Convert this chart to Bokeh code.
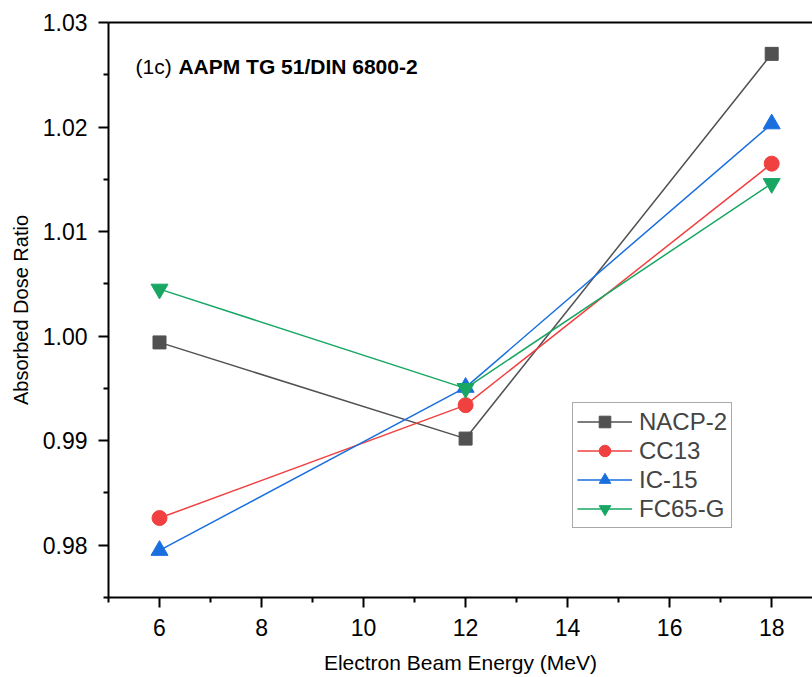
from bokeh.plotting import figure
from bokeh.models import (ColumnDataSource, FixedTicker, LinearAxis, Legend, LegendItem,
                          PrintfTickFormatter, Label, Range1d)
from bokeh.embed import file_html
from bokeh.resources import INLINE

# ---- data ----
energy = [6, 12, 18]
nacp2 = [0.9994, 0.9902, 1.0270]
cc13 = [0.9826, 0.9934, 1.0165]
ic15 = [0.9795, 0.9951, 1.0203]
fc65g = [1.0045, 0.9950, 1.0146]

series_names = ["NACP-2", "CC13", "IC-15", "FC65-G"]
series_vals = [nacp2, cc13, ic15, fc65g]
colors = ["#515151", "#F14040", "#1A6FDF", "#18A763"]
markers = ["square", "circle", "triangle", "inverted_triangle"]
marker_sizes = [13, 15, 17, 17]

x_major = [6, 8, 10, 12, 14, 16, 18]
x_minor = [5, 7, 9, 11, 13, 15, 17, 19]
y_major = [0.98, 0.99, 1.00, 1.01, 1.02, 1.03]
y_minor = [0.975, 0.985, 0.995, 1.005, 1.015, 1.025]

FONT = "Liberation Sans"

p = figure(width=812, height=677, output_backend="svg", toolbar_location=None,
           x_range=Range1d(5, 18.8), y_range=Range1d(0.975, 1.03),
           min_border_left=108, min_border_right=0, min_border_top=22, min_border_bottom=80)
p.outline_line_color = None
p.xgrid.visible = False
p.ygrid.visible = False
p.background_fill_color = "white"
p.border_fill_color = "white"

items = []
for name, vals, c, m, s in zip(series_names, series_vals, colors, markers, marker_sizes):
    src = ColumnDataSource(dict(x=energy, y=vals))
    r1 = p.line("x", "y", source=src, line_color=c, line_width=1.5)
    r2 = p.scatter("x", "y", source=src, marker=m, size=s, fill_color=c, line_color=c)
    items.append(LegendItem(label=name, renderers=[r1, r2]))

# axes styling
for ax in (p.xaxis[0], p.yaxis[0]):
    ax.axis_line_width = 2
    ax.major_tick_line_width = 2
    ax.minor_tick_line_width = 2
    ax.major_tick_out = 10
    ax.major_tick_in = 0
    ax.minor_tick_out = 5
    ax.minor_tick_in = 0
    ax.major_label_text_font = FONT
    ax.major_label_text_font_size = "23px"
    ax.major_label_text_color = "black"
    ax.axis_label_text_font = FONT
    ax.axis_label_text_font_style = "normal"
    ax.axis_label_text_color = "black"

p.xaxis[0].ticker = FixedTicker(ticks=x_major, minor_ticks=x_minor)
p.yaxis[0].ticker = FixedTicker(ticks=y_major, minor_ticks=y_minor)
p.yaxis[0].formatter = PrintfTickFormatter(format="%.2f")
p.xaxis[0].axis_label = "Electron Beam Energy (MeV)"
p.yaxis[0].axis_label = "Absorbed Dose Ratio"
p.xaxis[0].axis_label_text_font_size = "21px"
p.yaxis[0].axis_label_text_font_size = "20px"
p.xaxis[0].major_label_standoff = 11
p.xaxis[0].axis_label_standoff = 12
p.yaxis[0].major_label_standoff = 11
p.yaxis[0].axis_label_standoff = 8

# top spine
top = LinearAxis(ticker=FixedTicker(ticks=[]), major_label_text_font_size="0px",
                 major_tick_out=0, minor_tick_out=0, axis_line_width=2,
                 major_label_standoff=0)
p.add_layout(top, "above")

# annotation
p.add_layout(Label(x=5.53, y=1.0258, text="(1c)", text_font=FONT, text_font_size="21px",
                   text_baseline="middle", text_color="black"))
p.add_layout(Label(x=6.37, y=1.0258, text="AAPM TG 51/DIN 6800-2", text_font=FONT,
                   text_font_size="21px", text_font_style="bold",
                   text_baseline="middle", text_color="black"))

legend = Legend(items=items, location=(464, 69), margin=0, padding=4, spacing=0,
                glyph_width=55, glyph_height=29, label_height=29, label_standoff=7,
                label_text_font=FONT, label_text_font_size="24px",
                border_line_color="#555555", border_line_width=1.2,
                background_fill_color="white", background_fill_alpha=1.0)
p.add_layout(legend)

open("out.html", "w").write(file_html(p, INLINE))
